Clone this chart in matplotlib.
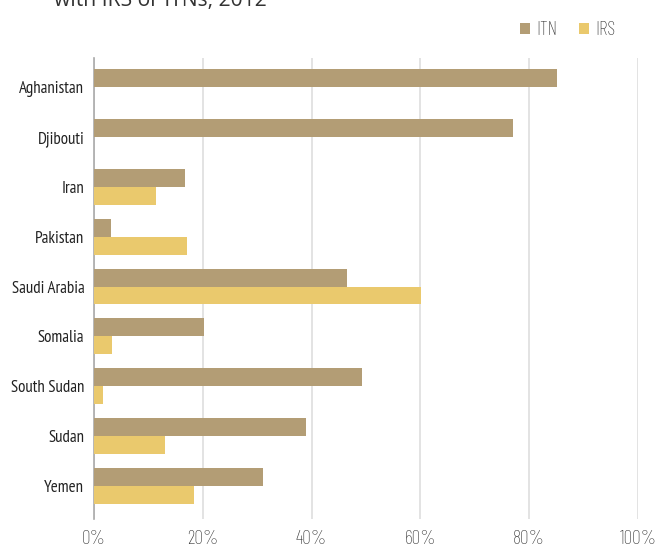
import matplotlib
matplotlib.use("Agg")
import matplotlib.pyplot as plt
import numpy as np
from matplotlib.ticker import FuncFormatter

countries = ["Aghanistan", "Djibouti", "Iran", "Pakistan", "Saudi Arabia",
             "Somalia", "South Sudan", "Sudan", "Yemen"]
itn = [85.1, 77.1, 16.7, 3.1, 46.5, 20.2, 49.3, 38.9, 31.1]
irs = [0, 0, 11.4, 17.1, 60.2, 3.3, 1.7, 13.0, 18.4]
xticks = [0, 20, 40, 60, 80, 100]

ITN_C = "#b39d75"
IRS_C = "#eac96d"
YFONT = ["PT Sans Narrow", "DejaVu Sans"]
XFONT = ["Barlow Condensed", "Roboto Condensed", "DejaVu Sans"]

fig = plt.figure(figsize=(6.61, 5.49), dpi=100)
ax = fig.add_axes([94/661, 1-519/549, (638-94)/661, (519-58)/549])

y = np.arange(len(countries))
h = 0.36
ax.barh(y - h/2, itn, height=h, color=ITN_C, label="ITN", zorder=3)
ax.barh(y + h/2, irs, height=h, color=IRS_C, label="IRS", zorder=3)

ax.set_xlim(0, 100)
ax.set_ylim(8.66, -0.58)
ax.set_xticks(xticks)
ax.xaxis.set_major_formatter(FuncFormatter(lambda v, p: f"{v:.0f}%"))
ax.set_yticks(y)
ax.set_yticklabels(countries)
ax.grid(axis="x", color="#dedede", linewidth=1.2, zorder=0)
for s in ["top", "right", "bottom"]:
    ax.spines[s].set_visible(False)
ax.spines["left"].set_color("#aaaaaa")
ax.spines["left"].set_linewidth(1.2)
ax.tick_params(axis="both", length=0)
ax.tick_params(axis="y", pad=7)
ax.tick_params(axis="x", pad=8)
for lab in ax.get_yticklabels():
    lab.set_fontfamily(YFONT)
    lab.set_fontsize(12.2)
    lab.set_color("#222222")
for lab in ax.get_xticklabels():
    lab.set_fontfamily(XFONT)
    lab.set_fontweight("light")
    lab.set_fontsize(14)
    lab.set_color("#333333")

leg = fig.legend(loc="upper left", bbox_to_anchor=(502/661, 1-4/549), ncol=2, frameon=False,
                 handlelength=0.55, handleheight=0.55, handletextpad=0.3, columnspacing=1.1,
                 prop={"family": XFONT, "size": 14, "weight": "light"})
for t in leg.get_texts():
    t.set_color("#333333")

fig.text(54/661, 1-6/549, "with IRS or ITNs, 2012", fontsize=15.2, family=["Open Sans", "DejaVu Sans"],
         color="#333333", va="baseline", ha="left")

fig.savefig("out.png", dpi=100)
